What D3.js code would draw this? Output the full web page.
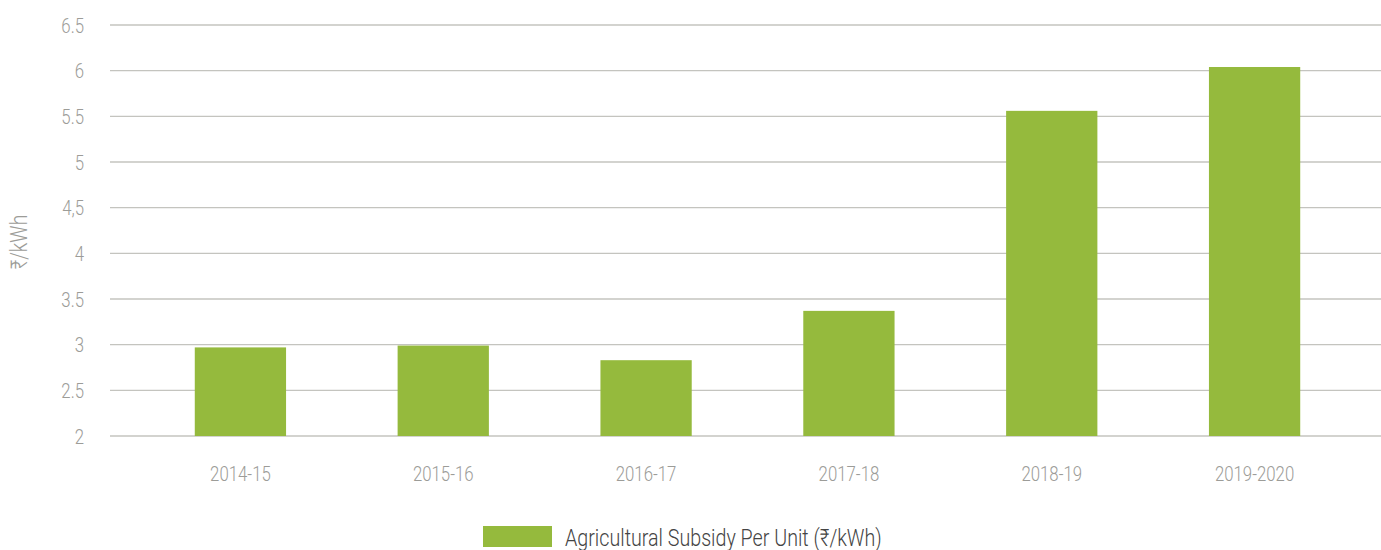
<!DOCTYPE html>
<html>
<head>
<meta charset="utf-8">
<script src="https://cdn.jsdelivr.net/npm/d3@7"></script>
<style>
  html, body { margin: 0; padding: 0; background: #fff; }
  svg { display: block; }
  text { font-family: Roboto, "Noto Sans", sans-serif; font-weight: 300; }
</style>
</head>
<body>
<svg id="chart" width="1381" height="550"></svg>
<script>
// Agricultural subsidy per unit of electricity, by financial year
const years = ["2014-15", "2015-16", "2016-17", "2017-18", "2018-19", "2019-2020"];
const subsidyPerUnit = [2.97, 2.99, 2.83, 3.37, 5.56, 6.04];
const yTickValues = [2, 2.5, 3, 3.5, 4, 4.5, 5, 5.5, 6, 6.5];
const yTickLabels = ["2", "2.5", "3", "3.5", "4", "4,5", "5", "5.5", "6", "6.5"];
const yAxisTitle = "₹/kWh";
const seriesName = "Agricultural Subsidy Per Unit (₹/kWh)";

const barColor = "#95ba3d";
const gridColor = "#c4c4bf";
const tickTextColor = "#9c9c98";
const squeeze = 0.84; // narrow the glyphs to a condensed look

const svg = d3.select("#chart");

const x = d3.scaleBand()
  .domain(years)
  .range([139, 1356])
  .paddingInner(0.55)
  .paddingOuter(0.275);

const y = d3.scaleLinear()
  .domain([2, 6.5])
  .range([436, 25]);

// horizontal gridlines
svg.append("g")
  .selectAll("line")
  .data(yTickValues)
  .join("line")
  .attr("x1", 110)
  .attr("x2", 1381)
  .attr("y1", d => y(d))
  .attr("y2", d => y(d))
  .attr("stroke", gridColor)
  .attr("stroke-width", 1.3);

// bars
svg.append("g")
  .selectAll("rect")
  .data(years.map((yr, i) => ({ yr, v: subsidyPerUnit[i] })))
  .join("rect")
  .attr("x", d => x(d.yr))
  .attr("width", x.bandwidth())
  .attr("y", d => y(d.v))
  .attr("height", d => y(2) - y(d.v))
  .attr("fill", barColor);

// y-axis tick labels
const yAxis = d3.axisLeft(y)
  .tickValues(yTickValues)
  .tickFormat((d, i) => yTickLabels[i])
  .tickSize(0)
  .tickPadding(0);

const gy = svg.append("g").attr("transform", "translate(84,0)").call(yAxis);
gy.select(".domain").remove();
gy.selectAll(".tick text")
  .attr("x", 0)
  .attr("dy", "0.36em")
  .attr("fill", tickTextColor)
  .attr("font-size", 20)
  .attr("text-anchor", "end")
  .style("font-family", "Roboto, sans-serif")
  .style("font-weight", 300)
  .attr("transform", `scale(${squeeze},1)`);

// x-axis category labels
const xAxis = d3.axisBottom(x).tickSize(0).tickPadding(0);
const gx = svg.append("g").attr("transform", "translate(0,474)").call(xAxis);
gx.select(".domain").remove();
gx.selectAll(".tick text")
  .attr("y", 0)
  .attr("dy", "0.36em")
  .attr("fill", tickTextColor)
  .attr("font-size", 20)
  .attr("text-anchor", "middle")
  .style("font-family", "Roboto, sans-serif")
  .style("font-weight", 300)
  .attr("transform", `scale(${squeeze},1)`);

// axis title
svg.append("text")
  .attr("transform", `translate(27,242) rotate(-90) scale(${squeeze},1)`)
  .attr("text-anchor", "middle")
  .attr("fill", tickTextColor)
  .attr("font-size", 23)
  .text(yAxisTitle);

// legend
const legend = svg.append("g");
legend.append("rect")
  .attr("x", 483)
  .attr("y", 526)
  .attr("width", 69)
  .attr("height", 21)
  .attr("fill", barColor);
legend.append("text")
  .attr("transform", `translate(565,546) scale(0.82,1)`)
  .attr("fill", "#444444")
  .attr("font-size", 24)
  .text(seriesName);
</script>
</body>
</html>
